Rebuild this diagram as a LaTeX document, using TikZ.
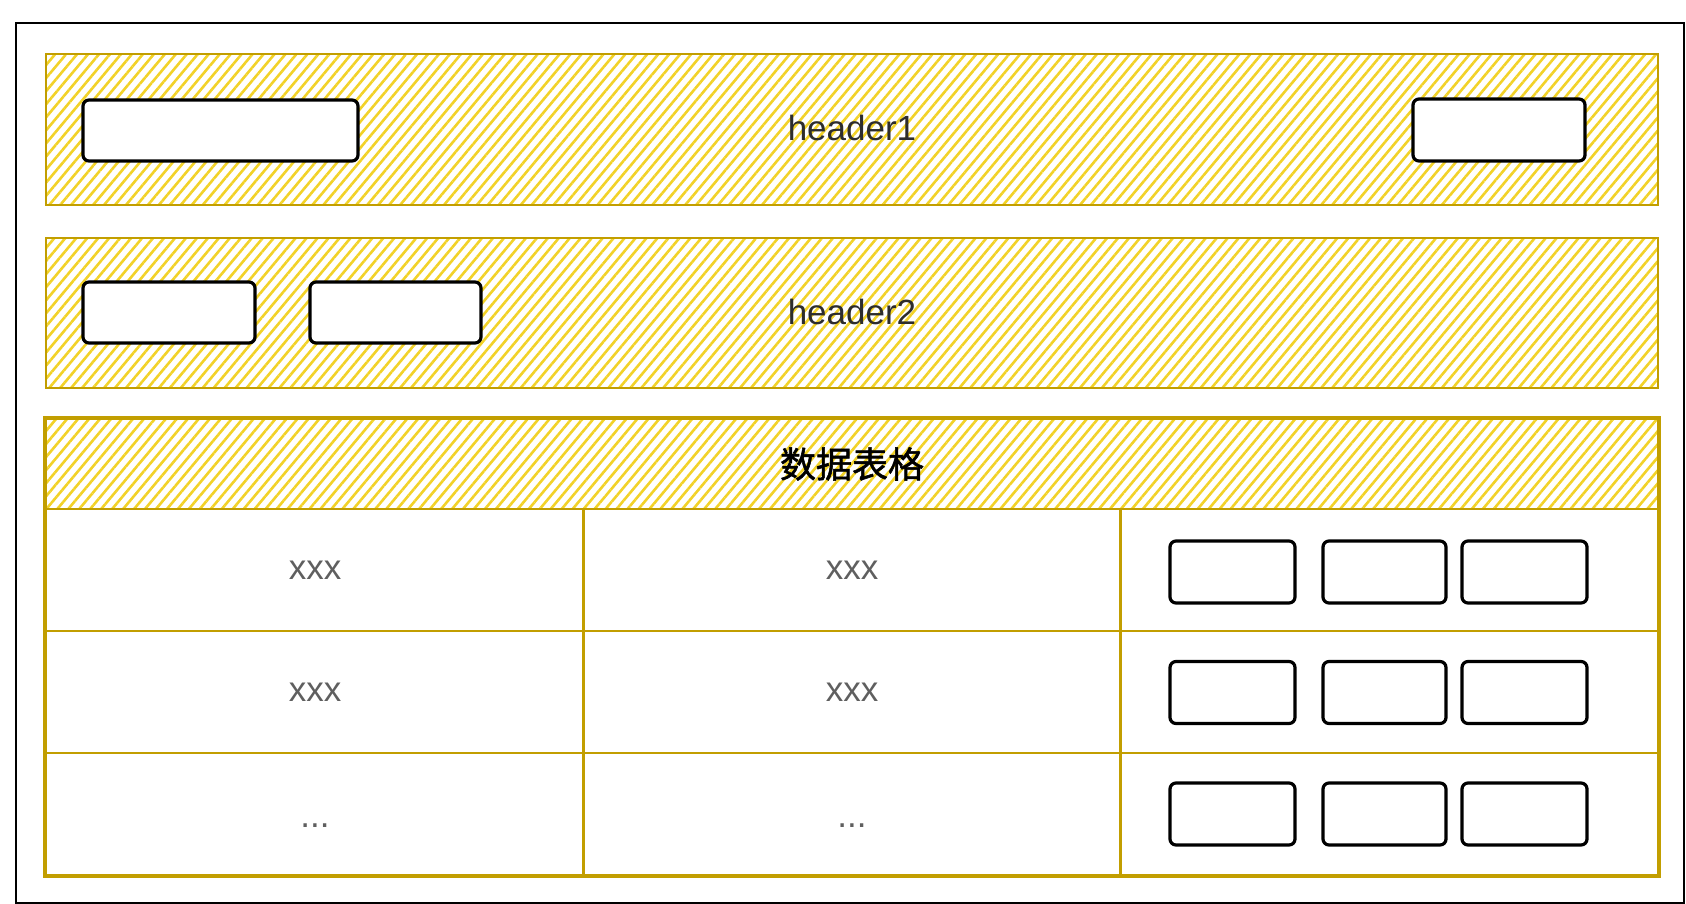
\documentclass[tikz,border=0pt]{standalone}
\usepackage{fontspec}
\setmainfont{Liberation Sans}
\newfontfamily\cjk{Noto Sans CJK SC}[FakeBold=1.5]
\usetikzlibrary{patterns.meta}
\definecolor{gold}{RGB}{194,158,0}
\definecolor{hatchy}{RGB}{242,210,40}
\definecolor{txtgray}{RGB}{95,95,95}
\definecolor{txtdark}{RGB}{45,45,45}
\tikzset{
  hatchbox/.style={draw=gold, line width=1.4pt, inner sep=0pt,
    pattern={Lines[angle=50,distance=4.2pt,line width=1.3pt]}, pattern color=hatchy,
    minimum width=806pt, text=txtdark, font=\fontsize{17.5}{20}\selectfont},
  cell/.style={draw=gold, line width=1.2pt, inner sep=0pt, minimum width=269pt,
    minimum height=61pt, text=txtgray, font=\fontsize{17.5}{20}\selectfont},
  btn/.style={draw=black, line width=1.6pt, rounded corners=3pt, fill=white,
    inner sep=0pt, minimum height=31pt},
  outerframe/.style={draw=black, line width=1pt, inner sep=0pt}
}
\begin{document}
\begin{tikzpicture}[x=0.5pt,y=-0.5pt]
\useasboundingbox (0,0) rectangle (1686,904);
% outer frame
\node[outerframe, minimum width=834pt, minimum height=440pt] (frame) at (850,463) {};
% header 1
\node[hatchbox, minimum height=75.5pt] (h1) at (852,129.5) {\raisebox{1.5pt}{header1}};
\node[btn, minimum width=137.5pt, minimum height=30.5pt] (h1a) at (220.5,130.5) {};
\node[btn, minimum width=86pt] (h1b) at (1499,130) {};
% header 2
\node[hatchbox, minimum height=75pt] (h2) at (852,313) {\raisebox{1.5pt}{header2}};
\node[btn, minimum width=86pt, minimum height=30.5pt] (h2a) at (169,312.5) {};
\node[btn, minimum width=85.5pt, minimum height=30.5pt] (h2b) at (395.5,312.5) {};
% table header
\node[hatchbox, minimum height=45pt, font=\fontsize{18}{20}\selectfont\cjk, text=black] (th) at (852,464) {数据表格};
% cells
\node[cell] (c11) at (315,570) {xxx};
\node[cell] (c12) at (852,570) {xxx};
\node[cell] (c13) at (1389,570) {};
\node[cell] (c21) at (315,692) {xxx};
\node[cell] (c22) at (852,692) {xxx};
\node[cell] (c23) at (1389,692) {};
\node[cell] (c31) at (315,814) {\raisebox{-13pt}{...}};
\node[cell] (c32) at (852,814) {\raisebox{-13pt}{...}};
\node[cell] (c33) at (1389,814) {};
% table outline
\draw[gold, line width=1.3pt] (th.north west) rectangle (c33.south east);
% buttons
\foreach \r/\y in {1/572,2/692.5,3/814}{
  \node[btn, minimum width=62.5pt] (b\r a) at (1232.5,\y) {};
  \node[btn, minimum width=61.5pt] (b\r b) at (1384.5,\y) {};
  \node[btn, minimum width=62.5pt] (b\r c) at (1524.5,\y) {};
}
\end{tikzpicture}
\end{document}
